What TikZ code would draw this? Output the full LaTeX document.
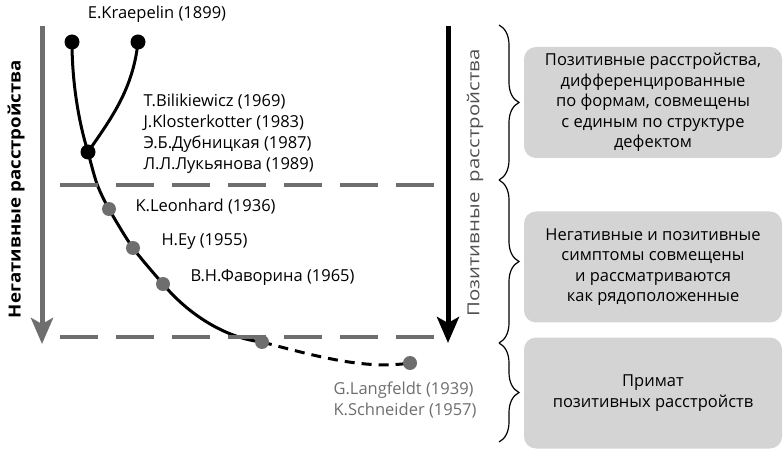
\documentclass[tikz,border=0pt]{standalone}
\usepackage{fontspec}
\setmainfont{Open Sans}
\usepackage{xcolor}
\definecolor{gray3}{RGB}{110,110,110}
\definecolor{boxgray}{RGB}{212,212,212}
\definecolor{textgray}{RGB}{80,80,80}
\usepackage{graphicx}
\usepackage{tikz}
\usetikzlibrary{arrows.meta, decorations.pathreplacing}
\pgfdeclarelayer{background}
\pgfsetlayers{background,main}

\begin{document}
\begin{tikzpicture}[x=1pt, y=1pt,
    >=Stealth,
    blackdot/.style={circle, fill=black, inner sep=0pt, minimum size=15pt},
    graydot/.style={circle, fill=gray3, inner sep=0pt, minimum size=14pt},
    authorlbl/.style={anchor=west, align=left, font=\fontsize{16.5}{21}\selectfont},
    infobox/.style={fill=boxgray, rounded corners=12pt, minimum width=258pt,
        minimum height=111pt, align=center, font=\fontsize{16.5}{20.5}\selectfont},
    levelline/.style={gray3, line width=4pt, dash pattern=on 38pt off 18pt},
    spanbrace/.style={decorate, decoration={brace, amplitude=20pt}, line width=1.2pt}]

\useasboundingbox (0,0) rectangle (784,450);

% Vertical arrows
\draw[gray3, line width=5pt, -{Stealth[length=26pt, width=22pt, inset=6pt]}]
    (42,424) -- (42,106);
\node[rotate=90, inner sep=0pt] (neglbl) at (16,261)
    {\resizebox*{258pt}{17pt}{\bfseries Негативные расстройства}};
\draw[black, line width=5pt, -{Stealth[length=26pt, width=22pt, inset=6pt]}]
    (448,424) -- (448,107);
\node[rotate=90, inner sep=0pt, textgray] (poslbl) at (475,267)
    {\resizebox*{267pt}{16.5pt}{Позитивные\ \ расстройства}};

% Level lines
\draw[levelline] (60,265) -- (435,265);
\draw[levelline] (60,113) -- (435,113);

% Points of the scheme
\node[blackdot] (kA) at (72,408) {};
\node[blackdot] (kB) at (138,408) {};
\node[blackdot] (J) at (88,298) {};
\node[graydot] (L) at (109,241) {};
\node[graydot] (E) at (133,202) {};
\node[graydot] (F) at (163,166) {};
\node[graydot] (G1) at (262,108) {};
\node[graydot] (G2) at (410,87) {};

% Curves behind the points
\begin{pgfonlayer}{background}
\draw[line width=3pt] (kA.center) .. controls (72,370) and (78,330) .. (J.center);
\draw[line width=3pt] (kB.center) .. controls (133,360) and (110,330) .. (J.center);
\draw[line width=3pt] plot[smooth] coordinates
    {(J.center) (97,266) (L.center) (E.center) (F.center)};
\draw[line width=3pt] (F.center) .. controls (188,136) and (225,112) .. (G1.center);
\draw[line width=3pt, dash pattern=on 10pt off 7pt]
    (G1.center) .. controls (315,94) and (365,80) .. (G2.center);
\end{pgfonlayer}

% Authors
\node[font=\fontsize{16.5}{19}\selectfont] (kraep) at (157,436) {E.Kraepelin (1899)};
\node[authorlbl] (bilik) at (140,316) {T.Bilikiewicz (1969)\\J.Klosterkotter (1983)\\
    Э.Б.Дубницкая (1987)\\Л.Л.Лукьянова (1989)};
\node[authorlbl] (leon) at (132,243) {K.Leonhard (1936)};
\node[authorlbl] (ey) at (158,208) {H.Ey (1955)};
\node[authorlbl] (favor) at (187,172) {В.Н.Фаворина (1965)};
\node[authorlbl, gray3] (langf) at (330,50) {G.Langfeldt (1939)\\K.Schneider (1957)};

% Braces
\coordinate (b0) at (499,425);
\coordinate (b1) at (499,270);
\coordinate (b2) at (499,107);
\coordinate (b3) at (499,8);
\draw[spanbrace] (b0) -- (b1);
\draw[spanbrace] (b1) -- (b2);
\draw[spanbrace] (b2) -- (b3);

% Boxes
\node[infobox] (box1) at (653,347.5) {Позитивные расстройства,\\дифференцированные\\
    по формам, совмещены\\с единым по структуре\\дефектом};
\node[infobox] (box2) at (653,183) {Негативные и позитивные\\симптомы совмещены\\
    и рассматриваются\\как рядоположенные};
\node[infobox] (box3) at (653,57) {Примат\\позитивных расстройств};

\end{tikzpicture}
\end{document}
